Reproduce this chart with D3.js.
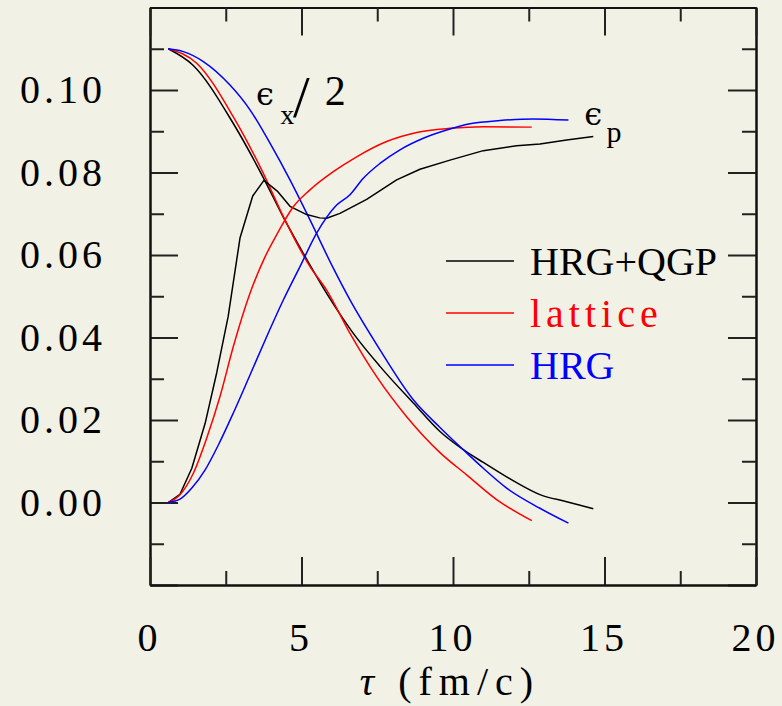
<!DOCTYPE html>
<html>
<head>
<meta charset="utf-8">
<script src="https://cdn.jsdelivr.net/npm/d3@7"></script>
<style>
  body { margin: 0; background: #f2f1e6; }
  svg { display: block; }
</style>
</head>
<body>
<div id="chart"></div>
<script>
// tau (fm/c) and values
var hqTauX = [0.6, 1.42, 2.74, 3.73, 4.39, 5.06, 5.83, 6.71, 7.59, 8.69, 9.57, 10.34, 11.0, 11.33, 12.1, 12.87, 13.75, 14.63];
var hqEpsX = [0.110, 0.106, 0.092, 0.0789, 0.0693, 0.0604, 0.0507, 0.041, 0.033, 0.0241, 0.0172, 0.0128, 0.0097, 0.0082, 0.0048, 0.0019, 0.0002, -0.0015];
var latTauX = [0.6, 1.54, 2.75, 3.74, 4.4, 5.28, 5.83, 6.6, 7.48, 8.47, 9.57, 10.45, 11.44, 12.6];
var latEpsX = [0.110, 0.1065, 0.0935, 0.0798, 0.0693, 0.0572, 0.0515, 0.041, 0.0305, 0.0208, 0.0121, 0.0067, 0.0007, -0.0044];
var hrgTauX = [0.6, 1.1, 1.76, 2.64, 3.3, 3.96, 4.62, 5.28, 6.05, 6.6, 7.59, 8.69, 9.57, 10.34, 11.0, 11.77, 12.87, 13.81];
var hrgEpsX = [0.110, 0.1093, 0.1069, 0.1012, 0.0952, 0.0871, 0.0782, 0.0685, 0.0568, 0.0491, 0.037, 0.0249, 0.0182, 0.0128, 0.0083, 0.0035, -0.0014, -0.005];

var hqTauP = [0.6, 0.99, 1.38, 1.82, 2.2, 2.58, 2.97, 3.39, 3.76, 4.2, 4.62, 5.17, 5.6, 5.83, 6.27, 7.15, 8.14, 8.91, 9.9, 11.0, 12.1, 12.87, 13.75, 14.63];
var hqEpsP = [0, 0.002, 0.0083, 0.0192, 0.0314, 0.0451, 0.0641, 0.0743, 0.0781, 0.0755, 0.0718, 0.0698, 0.069, 0.0689, 0.0701, 0.0735, 0.0782, 0.0808, 0.083, 0.0853, 0.0865, 0.0869, 0.0879, 0.0887];
var latTauP = [0.6, 0.99, 1.43, 1.87, 2.31, 2.75, 3.3, 3.8, 4.18, 4.73, 5.28, 6.05, 6.82, 7.81, 8.8, 9.9, 11.0, 12.6];
var latEpsP = [0, 0.0019, 0.0071, 0.0156, 0.0257, 0.0378, 0.0507, 0.0596, 0.0649, 0.0717, 0.0758, 0.0802, 0.0838, 0.0875, 0.0897, 0.0907, 0.0911, 0.091];
var hrgTauP = [0.6, 0.99, 1.38, 1.82, 2.26, 2.75, 3.3, 3.85, 4.4, 4.95, 5.5, 6.16, 6.6, 7.04, 7.59, 8.25, 9.02, 9.79, 10.56, 11.55, 12.65, 13.81];
var hrgEpsP = [0, 0.0008, 0.0035, 0.0079, 0.014, 0.0217, 0.0309, 0.0402, 0.0491, 0.0572, 0.0653, 0.0721, 0.0746, 0.0786, 0.0822, 0.0855, 0.0883, 0.0903, 0.0918, 0.0926, 0.093, 0.0927];

var legendNames = ["HRG+QGP", "lattice", "HRG"];
var legendColors = ["#000000", "#ff0000", "#0000ff"];

var xMajor = [0, 5, 10, 15, 20];
var xMinor = [2.5, 7.5, 12.5, 17.5];
var yMajor = [-0.02, 0, 0.02, 0.04, 0.06, 0.08, 0.10, 0.12];
var yMinor = [-0.01, 0.01, 0.03, 0.05, 0.07, 0.09, 0.11];

var width = 782, height = 706;
var serif = "'Liberation Serif', 'DejaVu Serif', serif";

var svg = d3.select("#chart").append("svg")
  .attr("width", width)
  .attr("height", height);

svg.append("rect").attr("width", width).attr("height", height).attr("fill", "#f2f1e6");

var x = d3.scaleLinear().domain([0, 20]).range([150, 756]);
var y = d3.scaleLinear().domain([-0.02, 0.12]).range([585, 7.5]);

function styleAxis(g) {
  g.attr("font-family", serif).attr("font-size", 40);
  g.selectAll("path.domain").attr("stroke", "#111").attr("stroke-width", 2);
  g.selectAll(".tick line").attr("stroke", "#222").attr("stroke-width", 2);
  g.selectAll(".tick text").attr("fill", "#000").attr("letter-spacing", 4);
}

var yFmt = function (d) {
  return (d < -0.001 || d > 0.11) ? "" : d3.format(".2f")(d);
};

// left
svg.append("g").attr("transform", "translate(150,0)")
  .call(d3.axisLeft(y).tickValues(yMajor).tickSizeInner(-28).tickSizeOuter(0).tickPadding(44).tickFormat(yFmt))
  .call(styleAxis);
svg.append("g").attr("transform", "translate(150,0)")
  .call(d3.axisLeft(y).tickValues(yMinor).tickSizeInner(-14).tickSizeOuter(0).tickFormat(""))
  .call(styleAxis);
// right
svg.append("g").attr("transform", "translate(756,0)")
  .call(d3.axisRight(y).tickValues(yMajor).tickSizeInner(-28).tickSizeOuter(0).tickFormat(""))
  .call(styleAxis);
svg.append("g").attr("transform", "translate(756,0)")
  .call(d3.axisRight(y).tickValues(yMinor).tickSizeInner(-14).tickSizeOuter(0).tickFormat(""))
  .call(styleAxis);
// bottom
svg.append("g").attr("transform", "translate(0,585)")
  .call(d3.axisBottom(x).tickValues(xMajor).tickSizeInner(-28).tickSizeOuter(0).tickPadding(38).tickFormat(d3.format("d")))
  .call(styleAxis)
  .selectAll(".tick text").attr("dx", -1);
svg.append("g").attr("transform", "translate(0,585)")
  .call(d3.axisBottom(x).tickValues(xMinor).tickSizeInner(-14).tickSizeOuter(0).tickFormat(""))
  .call(styleAxis);
// top
svg.append("g").attr("transform", "translate(0,7.5)")
  .call(d3.axisTop(x).tickValues(xMajor).tickSizeInner(-28).tickSizeOuter(0).tickFormat(""))
  .call(styleAxis);
svg.append("g").attr("transform", "translate(0,7.5)")
  .call(d3.axisTop(x).tickValues(xMinor).tickSizeInner(-14).tickSizeOuter(0).tickFormat(""))
  .call(styleAxis);

// axis title
var xt = svg.append("text")
  .attr("x", x(9.9))
  .attr("y", 695)
  .attr("text-anchor", "middle")
  .attr("font-family", serif)
  .attr("font-size", 40);
xt.append("tspan").attr("font-style", "italic").text("τ");
xt.append("tspan").attr("dx", 24).attr("letter-spacing", 7).text("(fm/c)");

// curves
var smooth = d3.line()
  .x((d) => x(d[0]))
  .y((d) => y(d[1]))
  .curve(d3.curveMonotoneX);
var straight = d3.line()
  .x((d) => x(d[0]))
  .y((d) => y(d[1]));

var curves = [
  { t: hqTauX, v: hqEpsX, c: legendColors[0], gen: smooth },
  { t: latTauX, v: latEpsX, c: legendColors[1], gen: smooth },
  { t: hrgTauX, v: hrgEpsX, c: legendColors[2], gen: smooth },
  { t: hqTauP, v: hqEpsP, c: legendColors[0], gen: straight },
  { t: latTauP, v: latEpsP, c: legendColors[1], gen: smooth },
  { t: hrgTauP, v: hrgEpsP, c: legendColors[2], gen: smooth },
];

svg.append("g").selectAll("path")
  .data(curves)
  .join("path")
  .attr("fill", "none")
  .attr("stroke", (d) => d.c)
  .attr("stroke-width", 1.5)
  .attr("stroke-linejoin", "round")
  .attr("d", (d) => d.gen(d3.zip(d.t, d.v)));

// legend
var leg = svg.append("g").selectAll("g")
  .data(legendNames)
  .join("g")
  .attr("transform", (d, i) => "translate(0," + (261 + i * 52) + ")");
leg.append("line")
  .attr("x1", 446).attr("x2", 514)
  .attr("stroke", (d, i) => legendColors[i])
  .attr("stroke-width", 1.5);
leg.append("text")
  .attr("x", 530)
  .attr("y", 14)
  .attr("font-family", serif)
  .attr("font-size", 40)
  .attr("letter-spacing", (d) => (d === "lattice" ? 5 : 0))
  .attr("fill", (d, i) => legendColors[i])
  .text((d) => d);

// curve labels, one text element each
var exLabel = svg.append("text").attr("font-family", serif);
exLabel.append("tspan").attr("x", x(3.5)).attr("y", y(0.0964))
  .attr("font-family", "'DejaVu Serif', serif").attr("font-size", 32).text("ϵ");
exLabel.append("tspan").attr("x", x(4.3)).attr("y", y(0.0918))
  .attr("font-size", 28).text("x");
exLabel.append("tspan").attr("x", x(4.72)).attr("y", y(0.0935))
  .attr("font-size", 60).text("/");
exLabel.append("tspan").attr("x", x(5.77)).attr("y", y(0.0964))
  .attr("font-size", 42).text("2");

var epLabel = svg.append("text").attr("font-family", serif);
epLabel.append("tspan").attr("x", x(14.33)).attr("y", y(0.0915))
  .attr("font-family", "'DejaVu Serif', serif").attr("font-size", 32).text("ϵ");
epLabel.append("tspan").attr("x", x(15.07)).attr("y", y(0.0875))
  .attr("font-size", 30).text("p");
</script>
</body>
</html>
